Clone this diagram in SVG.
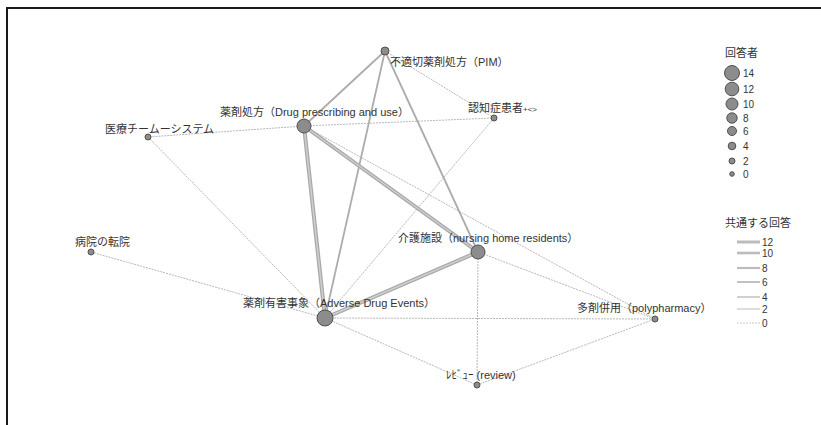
<svg xmlns="http://www.w3.org/2000/svg" width="821" height="425" viewBox="0 0 821 425">
<style>
text{font-family:"Liberation Sans","Noto Sans CJK JP",sans-serif;font-size:11px;fill:#333}
.node{fill:#8c8c8c;stroke:#505050;stroke-width:1}
.e1{stroke:#b8b8b8;stroke-width:1;stroke-dasharray:2 1;fill:none}
.e2{stroke:#acacac;stroke-width:1.8;fill:none}
.e4{stroke:#a8a8a8;stroke-width:4;fill:none}
.e4i{stroke:#cfcfcf;stroke-width:1.5;fill:none}
.le{stroke:#bcbcbc;fill:none}
.leg{font-size:10px}
</style>
<rect width="821" height="425" fill="#fff"/>
<path d="M7 425V8H821" fill="none" stroke="#1a1a1a" stroke-width="2"/>
<g id="connectors">
<line class="e1" x1="304" y1="126" x2="148" y2="137"/>
<line class="e1" x1="304" y1="126" x2="494" y2="118"/>
<line class="e1" x1="304" y1="126" x2="655" y2="319"/>
<line class="e1" x1="385" y1="51" x2="494" y2="118"/>
<line class="e1" x1="148" y1="137" x2="325" y2="318"/>
<line class="e1" x1="91" y1="252" x2="325" y2="318"/>
<line class="e1" x1="494" y1="118" x2="325" y2="318"/>
<line class="e1" x1="325" y1="318" x2="655" y2="319"/>
<line class="e1" x1="325" y1="318" x2="477" y2="385"/>
<line class="e1" x1="478" y1="252" x2="477" y2="385"/>
<line class="e1" x1="478" y1="252" x2="655" y2="319"/>
<line class="e1" x1="477" y1="385" x2="655" y2="319"/>
<line class="e2" x1="304" y1="126" x2="385" y2="51"/>
<line class="e2" x1="385" y1="51" x2="478" y2="252"/>
<line class="e2" x1="385" y1="51" x2="325" y2="318"/>
<line class="e4" x1="304" y1="126" x2="478" y2="252"/>
<line class="e4" x1="304" y1="126" x2="325" y2="318"/>
<line class="e4" x1="478" y1="252" x2="325" y2="318"/>
<line class="e4i" x1="304" y1="126" x2="478" y2="252"/>
<line class="e4i" x1="304" y1="126" x2="325" y2="318"/>
<line class="e4i" x1="478" y1="252" x2="325" y2="318"/>
</g>
<g id="n-team"><circle class="node" cx="148" cy="137" r="3"/><text x="105" y="133">医療チームーシステム</text></g>
<g id="n-drug"><circle class="node" cx="304" cy="126" r="7"/><text x="220" y="116">薬剤処方（Drug prescribing and use）</text></g>
<g id="n-pim"><circle class="node" cx="385" cy="51" r="4"/><text x="390" y="66">不適切薬剤処方（PIM）</text></g>
<g id="n-dementia"><circle class="node" cx="494" cy="118" r="3"/><text x="468" y="112">認知症患者<tspan font-size="8">+&lt;&gt;</tspan></text></g>
<g id="n-hospital"><circle class="node" cx="91" cy="252" r="3"/><text x="75" y="246">病院の転院</text></g>
<g id="n-nursing"><circle class="node" cx="478" cy="252" r="7"/><text x="398" y="242">介護施設（nursing home residents）</text></g>
<g id="n-ade"><circle class="node" cx="325" cy="318" r="8"/><text x="243" y="307">薬剤有害事象（Adverse Drug Events）</text></g>
<g id="n-poly"><circle class="node" cx="655" cy="319" r="3"/><text x="577" y="312">多剤併用（polypharmacy）</text></g>
<g id="n-review"><circle class="node" cx="477" cy="385" r="3"/><text x="446" y="379">ﾚﾋﾞｭｰ (review)</text></g>
<g id="legend-nodes">
<text x="725" y="57">回答者</text>
<circle class="node" cx="732" cy="73" r="7.5"/><text class="leg" x="743" y="77">14</text>
<circle class="node" cx="732" cy="89" r="6.8"/><text class="leg" x="743" y="93">12</text>
<circle class="node" cx="732" cy="104" r="6"/><text class="leg" x="743" y="108">10</text>
<circle class="node" cx="732" cy="118" r="5.2"/><text class="leg" x="743" y="122">8</text>
<circle class="node" cx="732" cy="131" r="4.5"/><text class="leg" x="743" y="135">6</text>
<circle class="node" cx="732" cy="146" r="3.8"/><text class="leg" x="743" y="150">4</text>
<circle class="node" cx="732" cy="161" r="3"/><text class="leg" x="743" y="165">2</text>
<circle class="node" cx="732" cy="174" r="2.3"/><text class="leg" x="743" y="178">0</text>
</g>
<g id="legend-edges">
<text x="725" y="227">共通する回答</text>
<line class="le" x1="737" y1="242" x2="760" y2="242" stroke-width="3"/><text class="leg" x="762" y="246">12</text>
<line class="le" x1="737" y1="253" x2="760" y2="253" stroke-width="2.6"/><text class="leg" x="762" y="257">10</text>
<line class="le" x1="737" y1="268" x2="760" y2="268" stroke-width="2.2"/><text class="leg" x="762" y="272">8</text>
<line class="le" x1="737" y1="282" x2="760" y2="282" stroke-width="1.8"/><text class="leg" x="762" y="286">6</text>
<line class="le" x1="737" y1="297" x2="760" y2="297" stroke-width="1.4"/><text class="leg" x="762" y="301">4</text>
<line class="le" x1="737" y1="309" x2="760" y2="309" stroke-width="1"/><text class="leg" x="762" y="313">2</text>
<line class="le" x1="737" y1="323" x2="760" y2="323" stroke-width="0.8" stroke-dasharray="2 1"/><text class="leg" x="762" y="327">0</text>
</g>
</svg>
